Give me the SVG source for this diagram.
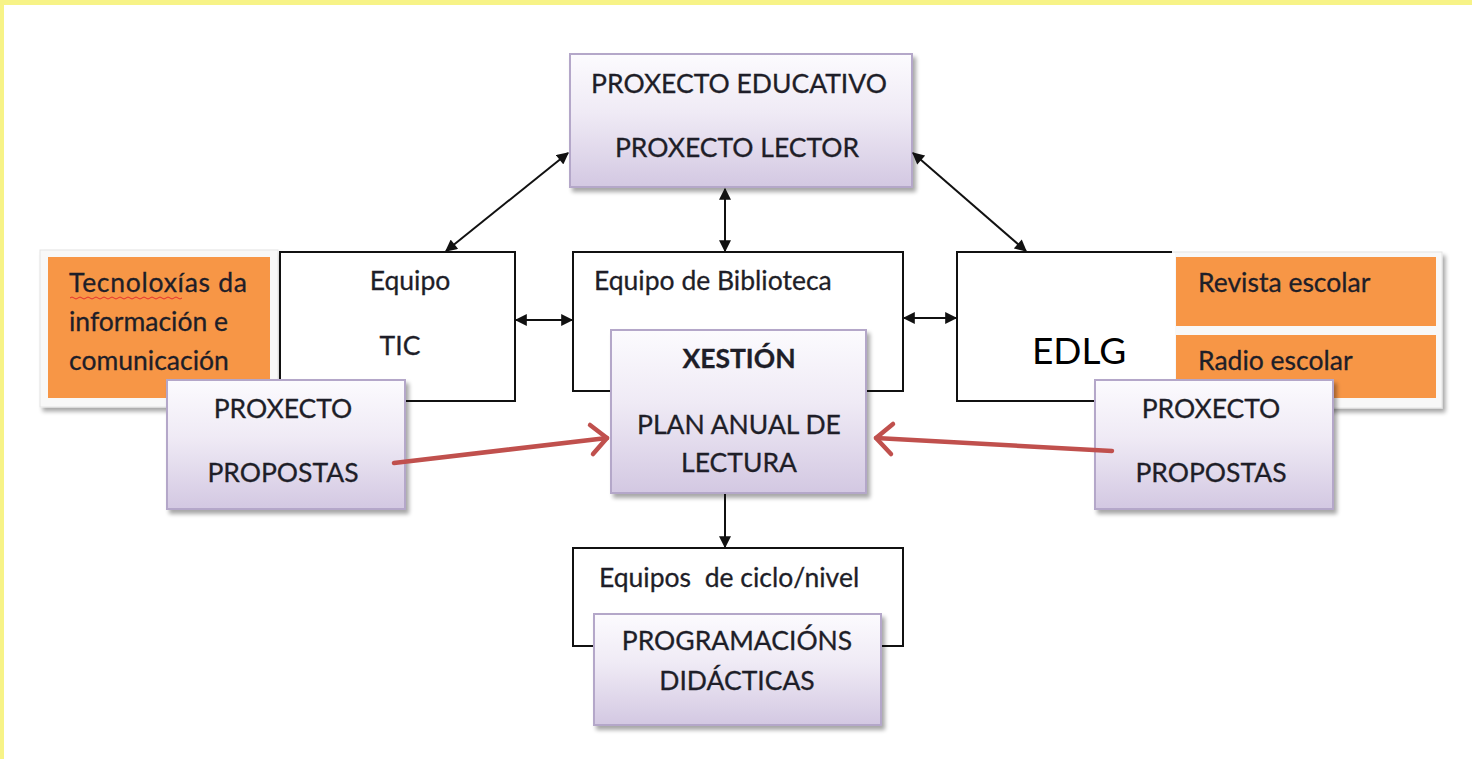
<svg xmlns="http://www.w3.org/2000/svg" width="1472" height="759" viewBox="0 0 1472 759">
<defs>
<linearGradient id="lav" x1="0" y1="0" x2="0" y2="1">
<stop offset="0" stop-color="#fcfbfe"/>
<stop offset="0.45" stop-color="#efeaf5"/>
<stop offset="1" stop-color="#d3c8e2"/>
</linearGradient>
<filter id="sh" x="-10%" y="-10%" width="130%" height="130%">
<feGaussianBlur in="SourceAlpha" stdDeviation="2"/>
<feOffset dx="3" dy="4"/>
<feComponentTransfer><feFuncA type="linear" slope="0.35"/></feComponentTransfer>
<feMerge><feMergeNode/><feMergeNode in="SourceGraphic"/></feMerge>
</filter>
<marker id="ah" viewBox="0 0 10 10" refX="9" refY="5" markerWidth="13" markerHeight="12" markerUnits="userSpaceOnUse" orient="auto-start-reverse">
<path d="M0,0 L10,5 L0,10 z" fill="#111"/>
</marker>
</defs>
<style>
.t{font-family:Lato,"Open Sans","Liberation Sans",sans-serif;fill:#1e1e28;font-size:26.5px;stroke:#1e1e28;stroke-width:0.3}
.c{text-anchor:middle}
.box{fill:#fff;stroke:#111;stroke-width:2}
.lav{fill:url(#lav);stroke:#b4a7c9;stroke-width:2;filter:url(#sh)}
.org{fill:#f79646}
.frame{fill:#f8f8f8;stroke:#e4e4e4;stroke-width:1;filter:url(#sh)}
.con{stroke:#111;stroke-width:2;fill:none;marker-start:url(#ah);marker-end:url(#ah)}
.red{stroke:#c0504d;stroke-width:4.5;fill:none;stroke-linecap:round;stroke-linejoin:round}
</style>
<rect x="0" y="0" width="1472" height="759" fill="#fff"/>
<rect x="0" y="0" width="1472" height="5" fill="#f7f387"/>
<rect x="0" y="0" width="4" height="759" fill="#f7f387"/>

<g id="tecnoloxias">
<rect class="frame" x="40" y="250" width="238" height="157"/>
<rect class="org" x="48" y="257" width="222" height="141"/>
<text class="t" x="69" y="292" textLength="178">Tecnoloxías da</text>
<path d="M70,298 q2,-2 4,0 t4,0 t4,0 t4,0 t4,0 t4,0 t4,0 t4,0 t4,0 t4,0 t4,0 t4,0 t4,0 t4,0 t4,0 t4,0 t4,0 t4,0 t4,0 t4,0 t4,0 t4,0 t4,0 t4,0 t4,0 t4,0 t4,0 t4,0" stroke="#e53030" stroke-width="1" fill="none"/>
<text class="t" x="69" y="331">información e</text>
<text class="t" x="69" y="370">comunicación</text>
</g>

<g id="revista">
<rect class="frame" x="1170" y="252" width="272" height="156"/>
<rect class="org" x="1176" y="257" width="260" height="69"/>
<rect class="org" x="1176" y="335" width="260" height="63"/>
<text class="t" x="1198" y="292">Revista escolar</text>
<text class="t" x="1198" y="370">Radio escolar</text>
</g>

<g id="equipo-tic">
<rect class="box" x="280" y="252" width="235" height="149"/>
<text class="t c" x="410" y="290">Equipo</text>
<text class="t c" x="400" y="355">TIC</text>
</g>

<g id="biblioteca">
<rect class="box" x="573" y="252" width="330" height="139"/>
<text class="t" x="594" y="290">Equipo de Biblioteca</text>
</g>

<g id="edlg">
<path d="M1172,252 H957 V401 H1172" stroke="#111" stroke-width="2" fill="#fff"/>
<rect x="1165" y="253" width="10" height="147" fill="#fff"/>
<text class="t" x="1032" y="364" style="font-size:37px;fill:#000;stroke:none">EDLG</text>
</g>

<g id="ciclo">
<rect class="box" x="573" y="548" width="330" height="98"/>
<text class="t" x="599" y="587" xml:space="preserve">Equipos  de ciclo/nivel</text>
</g>

<g id="proxecto-educativo">
<rect class="lav" x="570" y="54" width="342" height="133"/>
<text class="t c" x="739" y="93">PROXECTO EDUCATIVO</text>
<text class="t c" x="737" y="157">PROXECTO LECTOR</text>
</g>

<g id="xestion">
<rect class="lav" x="611" y="330" width="255" height="163"/>
<text class="t c" x="739" y="368" style="font-weight:bold">XESTIÓN</text>
<text class="t c" x="739" y="434">PLAN ANUAL DE</text>
<text class="t c" x="739" y="472">LECTURA</text>
</g>

<g id="propostas-esq">
<rect class="lav" x="167" y="380" width="238" height="129"/>
<text class="t c" x="283" y="418">PROXECTO</text>
<text class="t c" x="283" y="482">PROPOSTAS</text>
</g>

<g id="propostas-der">
<rect class="lav" x="1095" y="380" width="238" height="129"/>
<text class="t c" x="1211" y="418">PROXECTO</text>
<text class="t c" x="1211" y="482">PROPOSTAS</text>
</g>

<g id="programacions">
<rect class="lav" x="594" y="614" width="287" height="111"/>
<text class="t c" x="737" y="650">PROGRAMACIÓNS</text>
<text class="t c" x="737" y="690">DIDÁCTICAS</text>
</g>

<g id="connectors">
<line class="con" x1="568" y1="153" x2="446" y2="251"/>
<line class="con" x1="913" y1="153" x2="1026" y2="251"/>
<line class="con" x1="725" y1="189" x2="725" y2="251"/>
<line class="con" x1="516" y1="320" x2="572" y2="320"/>
<line class="con" x1="904" y1="318" x2="956" y2="318"/>
<line stroke="#111" stroke-width="2" x1="725" y1="494" x2="725" y2="547" marker-end="url(#ah)"/>
<line class="red" x1="394" y1="463" x2="607" y2="438"/>
<path class="red" d="M590,425 L607,438 L593,454"/>
<line class="red" x1="1112" y1="451" x2="876" y2="438"/>
<path class="red" d="M893,424 L876,438 L891,454"/>
</g>
</svg>
